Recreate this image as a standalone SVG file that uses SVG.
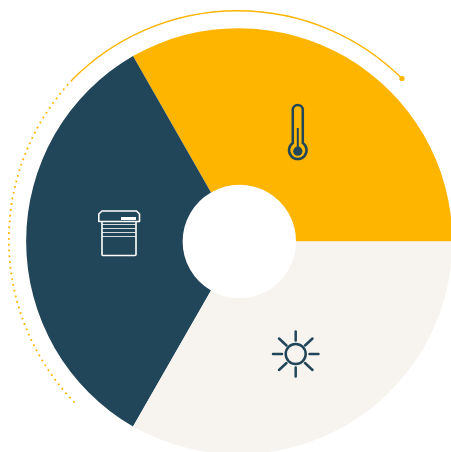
<svg xmlns="http://www.w3.org/2000/svg" width="451" height="452" viewBox="0 0 451 452">
<style>
.n{fill:none;stroke:#214559;stroke-width:2.5;stroke-linecap:round}
.w{fill:none;stroke:#fff;stroke-width:1.6;stroke-linejoin:round}
.a{fill:none;stroke:#fdb500}
</style>
<rect width="451" height="452" fill="#fff"/>
<g id="connectors">
<path class="a" stroke-width="1.3" d="M72 80A233 233 0 0 1 402 78.500"/>
<path class="a" stroke-width="1.8" stroke-linecap="butt" stroke-dasharray="1.8 4" d="M72 80A234 234 0 0 0 76 404"/>
<circle cx="402" cy="78.500" r="2.600" fill="#fdb500"/>
</g>
<g id="segment-yellow">
<path fill="#fdb500" d="M133 56A214 214 0 0 1 452.500 241.500H296A56.500 56.500 0 0 0 211 192.500Z"/>
<g id="thermometer">
<path class="n" d="M292.800 143V110a5 5 0 0 1 10 0V143A8.800 8.800 0 1 1 292.800 143Z" stroke-width="2.700"/>
<path d="M297.800 128V150" stroke="#214559" stroke-width="2" fill="none"/>
<circle cx="297.800" cy="151.200" r="4.600" fill="#214559"/>
</g>
</g>
<g id="segment-navy">
<path fill="#214559" d="M133 56A214 214 0 0 0 133 426.500L211 290.500A56.500 56.500 0 0 1 211 192.500Z"/>
<g id="shutter">
<path class="w" d="M102 211H136.500L139.500 214V221.500H98.800V214Z"/>
<path class="w" d="M102 221.500V254.500a1 1 0 0 0 1 1H135a1 1 0 0 0 1-1V221.500"/>
<rect x="121" y="217" width="15" height="3" fill="#fff"/>
<path d="M102 224.500H136M102 228.500H136M102 232.500H136M102 236.500H136" stroke="#fff" stroke-width="1" stroke-opacity=".8" fill="none"/>
</g>
</g>
<g id="segment-cream">
<path fill="#f7f4ef" d="M296 241.500H452.500A214 214 0 0 1 133 426.500L211 290.500A56.500 56.500 0 0 0 296 241.500Z"/>
<g id="sun">
<circle class="n" cx="295.700" cy="354" r="10" stroke-width="2.200"/>
<path class="n" stroke-width="2.200" d="M295.700 331.500V340.500M295.700 367.500V376.500M273 354H282M309.500 354H318.500M279 338.500L286.500 345.500M312.500 338.500L305 345.500M279 370L286.500 363M312.500 370L305 363"/>
</g>
</g>
</svg>
